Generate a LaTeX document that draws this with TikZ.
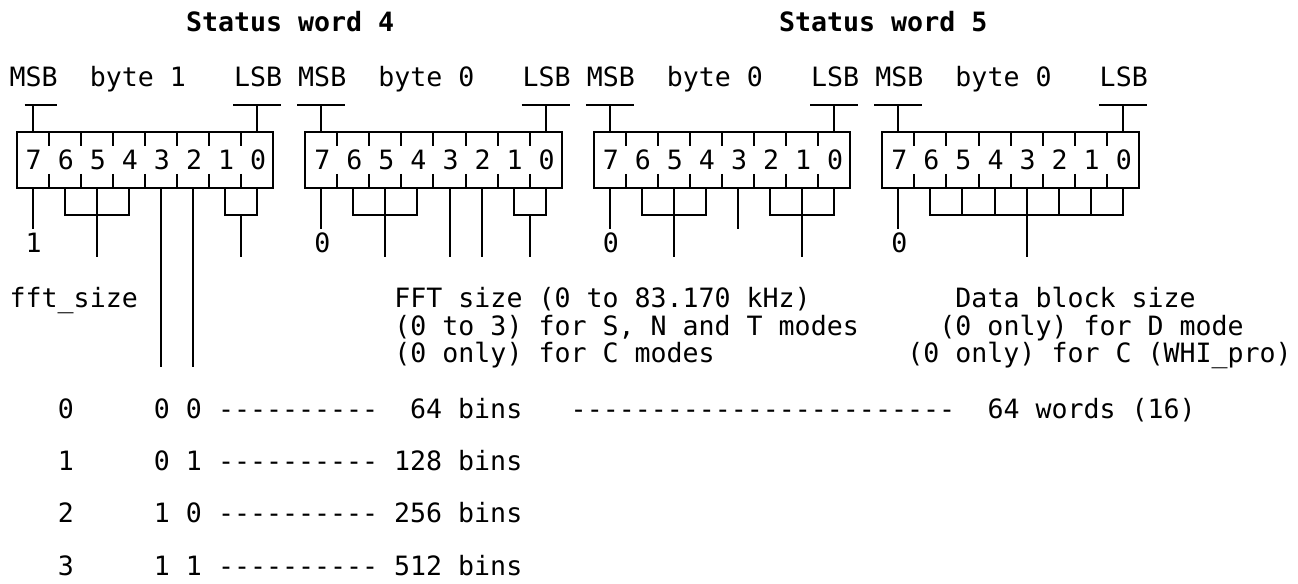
\documentclass[tikz,border=0pt]{standalone}
\usepackage{fontspec}
\setmonofont{DejaVu Sans Mono}
\usetikzlibrary{positioning}

\begin{document}
\begin{tikzpicture}[x=8.015pt, y=-13.8pt, line width=1pt,
        txt/.style={font=\ttfamily\fontsize{13.3}{13.8}\selectfont, inner sep=0pt, anchor=west, text height=9.7pt, text depth=0pt},
        ttl/.style={txt, font=\ttfamily\bfseries\fontsize{13.3}{13.8}\selectfont}]
        \useasboundingbox (-1.042,-0.797) rectangle (79.93,20.33);

        % Titles
        \node[ttl] (word4) at (10.5,0) {Status word 4};
        \node[ttl] (word5) at (47.5,0) {Status word 5};

        % Byte boxes
        \foreach \o/\b/\n/\m [count=\k] in {0/1/1/0.5, 18/0/0/17.5, 36/0/0/35.5, 54/0/0/53.5} {
            \node[txt] (msb\k) at (\o-0.5,2) {MSB};
            \node[txt] (byte\k) at (\o+4.5,2) {byte \b};
            \node[txt] (lsb\k) at (\o+13.5,2) {LSB};
            \draw (\m,3) -- (\o+2.5,3) (\o+1,3) -- (\o+1,4);
            \draw (\o+13.5,3) -- (\o+16.5,3) (\o+15,3) -- (\o+15,4);
            \draw (\o,4) rectangle (\o+16,6);
            \foreach \i in {2,4,...,14}
                \draw (\o+\i,4) -- (\o+\i,4.5) (\o+\i,5.5) -- (\o+\i,6);
            \foreach \d [count=\j from 0] in {7,...,0}
                \node[txt] (bit\k\d) at (\o+2*\j+0.5,5) {\d};
            \draw (\o+1,6) -- (\o+1,7.5);
            \node[txt] (msbval\k) at (\o+0.5,8) {\n};
        }

        % Bit groups, status word 4
        \draw (3,6) -- (3,7) -- (7,7) -- (7,6) (5,6) -- (5,8.5);
        \draw (9,6) -- (9,12.5) (11,6) -- (11,12.5);
        \draw (13,6) -- (13,7) -- (15,7) -- (15,6) (14,7) -- (14,8.5);
        \draw (21,6) -- (21,7) -- (25,7) -- (25,6) (23,6) -- (23,8.5);
        \draw (27,6) -- (27,8.5) (29,6) -- (29,8.5);
        \draw (31,6) -- (31,7) -- (33,7) -- (33,6) (32,7) -- (32,8.5);

        % Bit groups, status word 5
        \draw (39,6) -- (39,7) -- (43,7) -- (43,6) (41,6) -- (41,8.5);
        \draw (45,6) -- (45,7.5);
        \draw (47,6) -- (47,7) -- (51,7) -- (51,6) (49,6) -- (49,8.5);
        \draw (57,6) -- (57,7) -- (69,7) -- (69,6) (63,6) -- (63,8.5);
        \foreach \c in {59,61,65,67}
            \draw (\c,6) -- (\c,7);

        % Field descriptions
        \node[txt] (fftname) at (-0.5,10) {fft\_size};
        \node[txt] (fftA) at (23.5,10) {FFT size (0 to 83.170 kHz)};
        \node[txt] (fftB) at (23.5,11) {(0 to 3) for S, N and T modes};
        \node[txt] (fftC) at (23.5,12) {(0 only) for C modes};
        \node[txt] (blkA) at (58.5,10) {Data block size};
        \node[txt] (blkB) at (57.5,11) {(0 only) for D mode};
        \node[txt] (blkC) at (55.5,12) {(0 only) for C (WHI\_pro)};

        % Size table
        \foreach \v/\bb/\sz [count=\r from 0] in {0/0 0/~64, 1/0 1/128, 2/1 0/256, 3/1 1/512} {
            \node[txt] (val\v) at (2.5,14+1.9*\r) {\v};
            \node[txt] (size\v) at (8.5,14+1.9*\r) {\bb{} ---------- \sz{} bins};
        }
        \node[txt] (wordsdash) at (34.5,14) {------------------------};
        \node[txt] (words) at (60.5,14) {64 words (16)};

    \end{tikzpicture}
\end{document}
